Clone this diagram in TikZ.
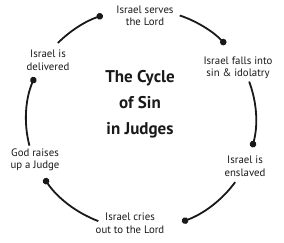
\documentclass[tikz,border=0pt]{standalone}
\usepackage{fontspec}
\setmainfont{PT Sans}
\usetikzlibrary{arrows.meta}
\begin{document}
\begin{tikzpicture}[x=1pt,y=1pt,
  lbl/.style={align=center, font=\fontsize{10.8}{12.5}\selectfont, inner sep=0pt, text=black!90},
  ttl/.style={align=center, font=\fontsize{17}{26}\selectfont\bfseries, inner sep=0pt, text=black!90},
  cyc/.style={line width=1.8pt, black!90, -{Circle[length=6.5pt]}},
]
\useasboundingbox (0,0) rectangle (284,-242);
\node[lbl] (serve)   at (145,-16)  {Israel serves\\the Lord};
\node[lbl] (falls)   at (238,-68)  {Israel falls into\\sin \& idolatry};
\node[lbl] (enslave) at (245,-166) {Israel is\\enslaved};
\node[lbl] (cries)   at (130,-223) {Israel cries\\out to the Lord};
\node[lbl] (raise)   at (35,-160)  {God raises\\up a Judge};
\node[lbl] (deliver) at (48,-60)   {Israel is\\delivered};
\node[ttl] (title)   at (140,-104) {The Cycle\\of Sin\\in Judges};
\coordinate (C) at (141,-119);
\path (C) ++(70.3:115 and 110) coordinate (s1);
\path (C) ++(19.9:115 and 110) coordinate (s2);
\path (C) ++(-35:115 and 110) coordinate (s3);
\path (C) ++(-111.8:115 and 110) coordinate (s4);
\path (C) ++(194:115 and 110) coordinate (s5);
\path (C) ++(136.3:115 and 110) coordinate (s6);
\draw[cyc] (s1) arc[start angle=70.3, end angle=42.7, x radius=115, y radius=110];
\draw[cyc] (s2) arc[start angle=19.9, end angle=-14.9, x radius=115, y radius=110];
\draw[cyc] (s3) arc[start angle=-35, end angle=-69.1, x radius=115, y radius=110];
\draw[cyc] (s4) arc[start angle=-111.8, end angle=-147.3, x radius=115, y radius=110];
\draw[cyc] (s5) arc[start angle=194, end angle=157.6, x radius=115, y radius=110];
\draw[cyc] (s6) arc[start angle=136.3, end angle=109.4, x radius=115, y radius=110];
\end{tikzpicture}
\end{document}
